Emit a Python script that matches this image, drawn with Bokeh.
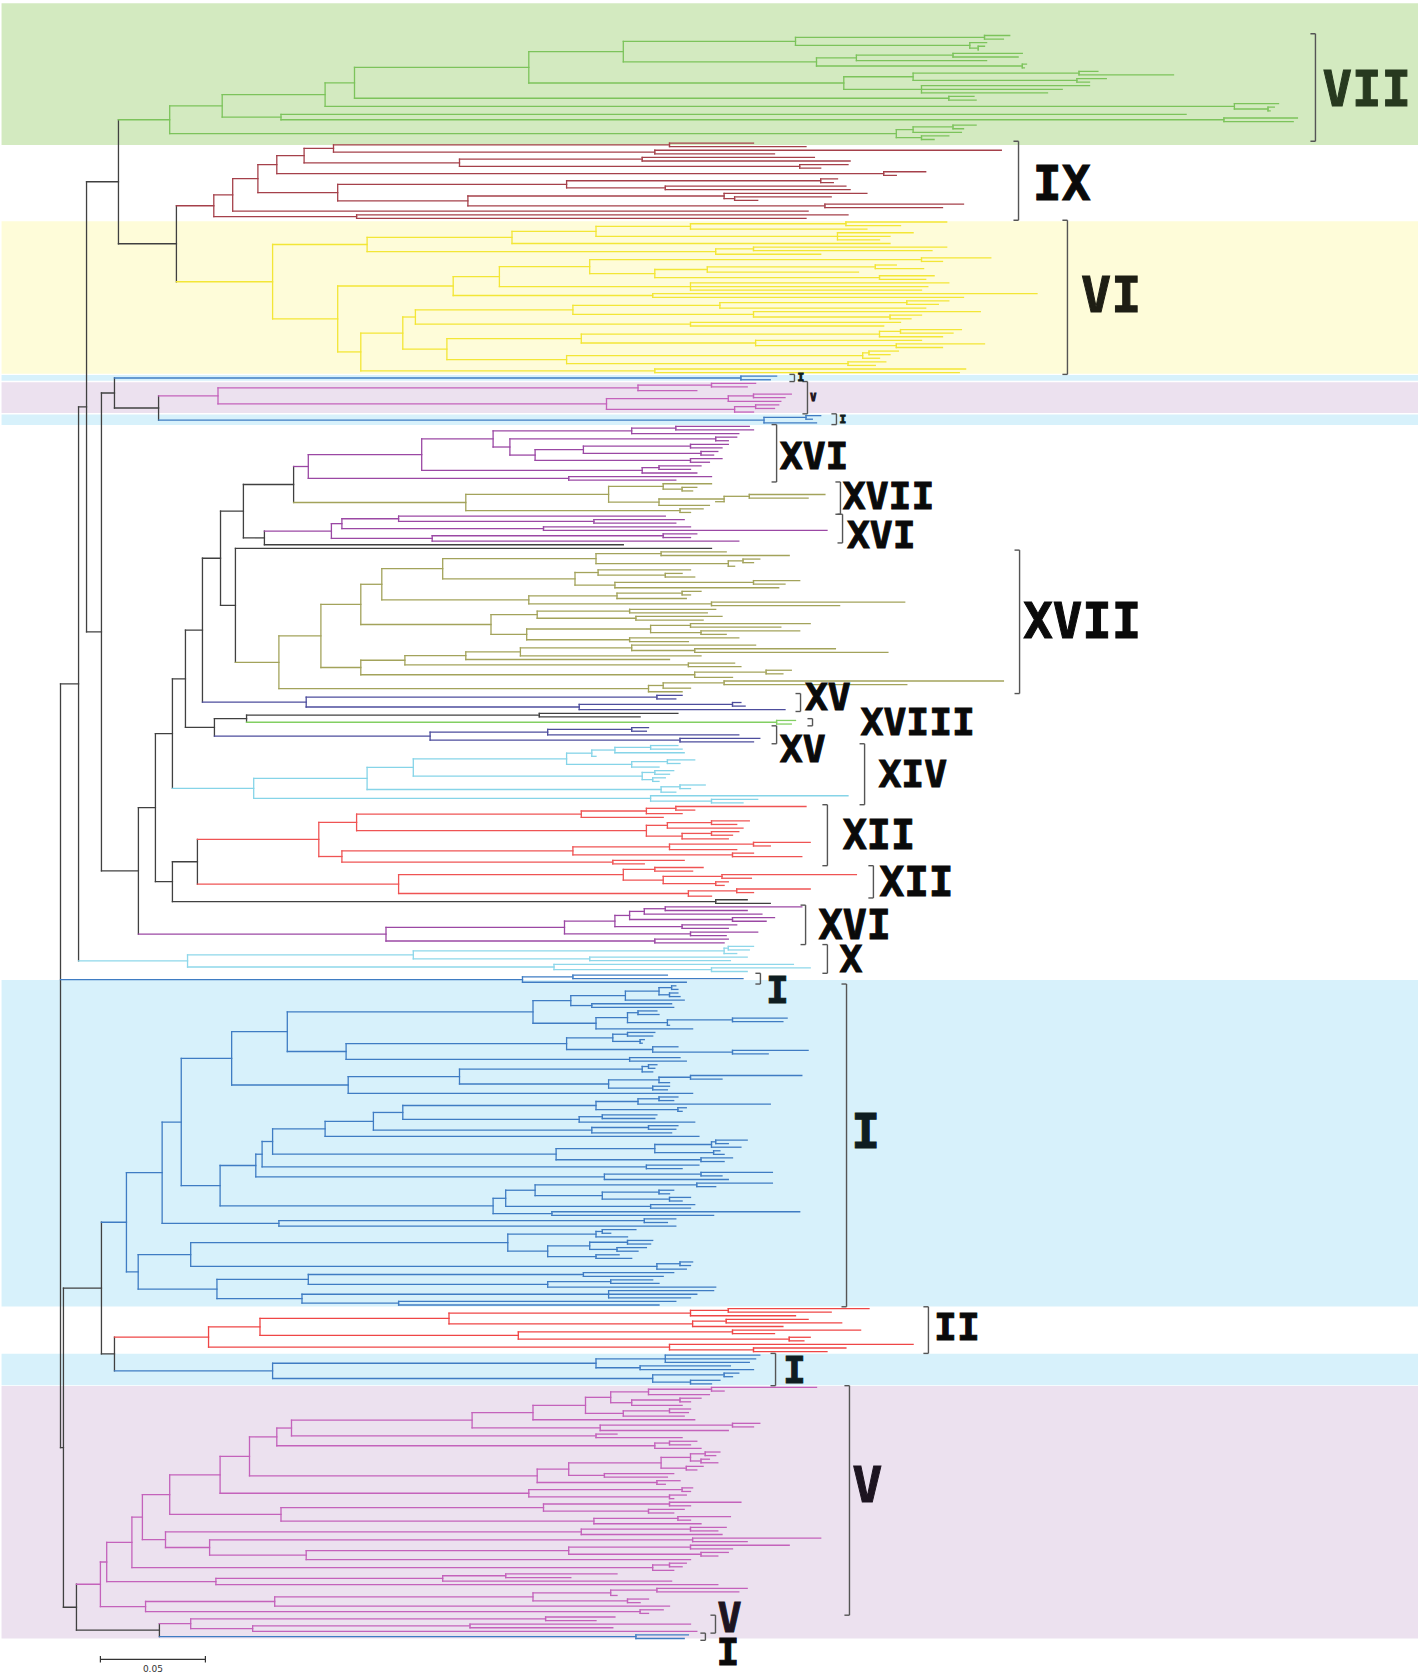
from bokeh.plotting import figure
from bokeh.models import ColumnDataSource, Range1d
from bokeh.embed import file_html
from bokeh.resources import INLINE
from bokeh.core.properties import value, field

# Tree data: a node is (depth, child, child, ...); a bare number is a leaf.
# Depth = distance from the root, in 0.001 substitutions/site (scale bar = 50).

# ---------------- clade VII ----------------
v794 = (350, (440, 452, 449), (433, 441, (437, 440, 437)))
v816 = (360, (379, (425, 458, 456), 441), (458, 460, 459))
v844 = (373, (406, (485, 494, 530), (484, 498, 490)), (410, 490, 477, 470))
VII = (52,
       (77,
        (126,
         (140, (223, (268, v794, v816), v844), (423, 435, 436)),
         (559, 580, (575, 578, 576))),
        (105, 536, (554, 589, 587))),
       (398, (406, (425, 436, 430), 429), (410, 423, 416)))

# ---------------- clade IX ----------------
ix724 = (130, (290, 330, 355), (283, 448, 340))
ix999 = (190, (277, 359, 376), (352, 375, 362))
ix602 = (103, (116, ix724, ix999), (392, 412, 398))
ix1236 = (241, (362, 370, 368), (288, 374, 376))
ix1021 = (194, (316, 384, (321, 367, 332)), (364, 430, 420))
IX = (73, (82, (94, ix602, (132, ix1236, ix1021)), 356), (141, 375, 355))

# ---------------- clade VI ----------------
vi1300 = (255, (300, (374, 422, 400), 384), (370, 406, 395, 390))
vi800 = (146, (215, vi1300, 395), (312, (330, 422, 415), 362))
vi1285 = (252, (410, 443, 420), (283, (308, (388, 398, 411), 380), (390, 416, 412)))
vi985 = (187, (209, vi1285, (300, 423, 413, 410)), (282, 465, 430))
vi1246 = (244, (314, (403, 423, 418), 412), (330, 438, (395, 410, 405)))
vi905 = (169, vi1246, (300, 400, 392))
vi1266 = (248, (390, (400, 429, 425), 420), (331, 410, (398, 440, 420)))
vi975 = (184, vi1266, (241, (382, (385, 399, 395), 390), (375, 393, 388)))
vi784 = (143, (163, vi905, vi975), (283, 431, 428))
VI = (101, vi800, (132, vi985, vi784))

# ---------------- small clades near the top ----------------
Ia = (324, 341, 338)
Va = (75, (275, (310, 331, 327), 303),
      (260, (318, (330, 348, 345), 343), (321, (331, 342, 340), 330)))
Ib = (335, (355, 362, 358), 360)

x1075 = (206, (272, (293, 328, 330), 323),
         (214, (312, 322, 318), (226, (249, (300, 318, 315), (305, 313, 311)), (300, 315, 309))))
XVIa = (118, (172, x1075, (277, (285, 305, 300), 303)), (242, 310, 293))
XVIIa = (193, (261, (287, 310, (296, 303, 301)), (285, (316, (328, 364, 356), 312), 309)),
         (295, 306, 300))
XVIb = (129, (134, (161, 288, (254, 297, 293)), (230, 300, 365)), (177, (287, 303, 300), 323))

# ---------------- clade XVII (large) ----------------
s1296 = (255, (286, 317, 347), (318, (325, 333, 330), 321))
s1251 = (245, (256, 300, (288, 296, 302)), (264, (330, 352, 345), 342))
s1151 = (223, (265, (296, 305, 300), 298), (310, 402, 371))
s832 = (153, (182, s1296, s1251), s1151)
s1172 = (227, (271, 312, 308), (274, 315, 306))
s1149 = (222, (281, (300, 357, 343), (305, 352, 317)), (271, 323, 299))
s788 = (143, s832, (205, s1172, s1149))
s1133 = (219, (272, 331, (302, 369, 394)), 305)
s784 = (143, (164, (193, s1133, 290), (299, 321, 324)), (302, (336, 348, 344), 320))
XVIIb = (104, (124, s788, s784), (280, (287, (316, 449, 403), 300), 296))

XVa = (117, (284, 296, 293), (247, (320, 324, 326), 345))
XVIII = (341, 350, 348)
XVb = (176, (232, (272, 280, 279), 323), (295, 333, 330))

k1233 = (241, (253, (264, (281, 294, 296), 297), 255), (272, (289, 302, 295), 285))
XIV = (92, (146, (168, k1233, (277, (283, 292, 290), (282, 288, 285))), (286, (295, 307, 300), 293)),
       (281, 375, (310, 332, 325)))

r1268 = (248, (279, (293, 355, 302), 296), 287)
r1410 = (279, (289, (310, 328, 322), 325), (296, (310, 323, 320), 318))
r1250 = (244, (290, (330, 357, 338), 322), (320, 330, 353))
XIIa = (123, (141, r1268, r1410), (134, r1250, (263, 297, 278)))
XIIb = (161, (268, (283, 306, 301), (287, (315, 379, 329), (312, 318, 316))),
        (299, (322, 357, 330), 310))

c1403 = (278, (288, 353, 327), 334)
XVIc = (155, (240, (264, (271, c1403, (320, 340, 336)), (296, 322, 318)), (300, 332, 317)),
        (283, 318, 316))
X = (60.5, (168, (316, (318, 330, 328), 322), (252, 327, 319)), (235, 349, (310, 357, 327)))
Ic = (220, (244, 289, 325), 298)

# ---------------- clade I (large) ----------------
b1243 = (243, (269, (285, (291, 293, 294), (290, 294, 295)), 297), (253, 291, 292))
b1299 = (255, (270, (275, 284, 285), (289, (320, 346, 344), 290)), 301)
b1235 = (241, (263, (270, 283, 282), (276, 278, 277)), (282, 294, (320, 356, 337)))
b624 = (108, (225, b1243, b1299), (136, b1235, (271, 295, 298)))
b1000 = (190, (277, (280, 284, 283), 282), (261, (285, (300, 353, 315), 290), (282, 290, 289)))
b504 = (81.5, b624, (137, b1000, 301))
b1297 = (255, (275, (285, 294, 292), 338), (294, 298, 296))
b877 = (163, b1297, (247, (258, 284, 283), 302))
b709 = (126, (149, b877, (253, (280, 294, 293), 291)), 304)
b595 = (101, b709, (236, (283, (310, (312, 327, 318), 324), (311, 314, 316)), (305, 320, 316)))
b555 = (93, (96, b595, (279, 304, 296)), (259, (305, 339, 315), 318))
b1165 = (226, (303, 339, 312), (258, (285, 292, 290), (290, 300, 296)))
b1075 = (206, (212, b1165, (281, 302, 300)), (234, 352, 311))
b354 = (48.4, (57.5, b504, (76, b555, b1075)), (104, (278, 293, 289), 293))
b1195 = (232, (252, (270, 282, 281), (265, 279, 275)), (255, 266, 272))
b416 = (62, (213, (255, (258, 274, 262), 270), b1195), (284, (295, 301, 300), 298))
b472 = (74.5, (118, (249, 292, 287), (232, (262, 282, 285), 312)),
        (115, (261, 311, 303, 300), (161, 293, 285)))
Ibig = (31.4, b354, (37, b416, b472))

II = (70.5, (95, (185, (300, (318, 385, 367), 350), (301, (317, 356, 372), 344)),
             (218, (320, 381, 340), (347, 357, 354))),
      (290, 406, (330, 374, 365)))
Id = (101, (255, (288, 333, 331, 328), (276, 319, 330)), (282, (316, 323, 320), (300, 314, 310)))

# ---------------- clade V (large) ----------------
vA = (225, (250, (262, (280, (310, 360, 316), 309), (272, (295, 305, 300), 296)),
            (268, (290, 300, 299), 297)), 302)
v601 = (103, (110, (196, vA, (257, (320, 333, 330), 318)), (255, 265, 296)),
        (283, (290, 303, 300), 305))
vB = (227, (242, (286, (300, (307, 314, 312), (305, 309, 313)), (298, 306, 303)), (259, 292, 289)),
      (284, 295, 288))
vC = (223, (296, 301, 300), (290, 298, 292))
vD = (105, (230, (290, 324, 300), (280, 297, 292)), (254, (294, 319, 300), 305))
vE = (50, (248, (300, 317, 313), 315),
      (71, (301, 362, 327), (117, (242, (300, 347, 320), (305, 318, 313)), 300)))
vF = (282, (290, 298, 296), 292)
vG = (74, (182, (212, 265, 243), 291), 313)
vH = (40.5, (102, (225, (262, (284, 327, 323), 265), (270, 280, 276)), 290), (276, 287, 280))
Vbig = (19, (22, (34, (39, (52, (76, (90, v601, vB), vC), vD), vE), vF), vG), vH)
Vsmall = (62, (231, 264, 255), (91.5, (195, 300, 263), 303))
Ie = (274, 299, 297)

# ---------------- backbone (named clades plugged in) ----------------
BACKBONE = (0,
            (8.6,
             (12.4,
              (27.6, "VII", (55.2, "IX", "VI")),
              (19.5,
               (25.7, "Ia", (46.7, "Va", "Ib")),
               (37.1,
                (45.2,
                 (53.3,
                  (59.5,
                   (67.6,
                    (76.2,
                     (87.1, (111, "XVIa", "XVIIa"), (97.1, "XVIb", 268)),
                     (83.3, 310, "XVIIb")),
                    "XVa"),
                   (73.3, (88.6, (228, 294, 276), "XVIII"), "XVb")),
                  "XIV"),
                 (53.3, (65.2, "XIIa", "XIIb"), (312, 327, 338))),
                "XVIc"))),
             "X"),
            "Ic",
            (1.4,
             (19.5, "Ibig", (25.7, "II", "Id")),
             (7.6, "Vbig", (47.1, "Vsmall", "Ie"))))

CLADES = {"VII": VII, "IX": IX, "VI": VI, "Ia": Ia, "Va": Va, "Ib": Ib, "XVIa": XVIa,
          "XVIIa": XVIIa, "XVIb": XVIb, "XVIIb": XVIIb, "XVa": XVa, "XVIII": XVIII,
          "XVb": XVb, "XIV": XIV, "XIIa": XIIa, "XIIb": XIIb, "XVIc": XVIc, "X": X,
          "Ic": Ic, "Ibig": Ibig, "II": II, "Id": Id, "Vbig": Vbig, "Vsmall": Vsmall, "Ie": Ie}
GROUP = {"VII": "VII", "IX": "IX", "VI": "VI", "Ia": "I", "Va": "V", "Ib": "I", "XVIa": "XVI",
         "XVIIa": "XVII", "XVIb": "XVI", "XVIIb": "XVII", "XVa": "XV", "XVIII": "XVIII",
         "XVb": "XV", "XIV": "XIV", "XIIa": "XII", "XIIb": "XII", "XVIc": "XVI", "X": "X",
         "Ic": "I", "Ibig": "I", "II": "II", "Id": "I", "Vbig": "V", "Vsmall": "V", "Ie": "I"}
LINE_COLORS = {"bb": "#404040", "VII": "#7cc35b", "IX": "#a5404a", "VI": "#f3e636",
               "I": "#3f7cc3", "V": "#c462bb", "XVI": "#9b48a4", "XVII": "#a3a35b",
               "XV": "#4d4d9d", "XVIII": "#82cf62", "XIV": "#86d4e8", "XII": "#ef5454",
               "X": "#8ed7ea", "II": "#ef4646"}

# ---------------- layout settings ----------------
W, H = 1418, 1673
PX_PER_UNIT = 2.1
ROOT_PX, FIRST_LEAF_PX, LAST_LEAF_PX = 60, 35, 1638


def build(spec, group, clade=None):
    if isinstance(spec, str):
        return build(CLADES[spec], GROUP[spec], spec)
    if isinstance(spec, (int, float)):
        return {"d": float(spec), "kids": [], "g": group, "clade": clade}
    d, *kids = spec
    return {"d": float(d), "kids": [build(k, group, clade) for k in kids], "g": group, "clade": clade}


root = build(BACKBONE, "bb")
counter = [0]
ranges = {}


def layout(n):
    if not n["kids"]:
        n["y"] = counter[0]
        counter[0] += 1
    else:
        for k in n["kids"]:
            layout(k)
        n["y"] = (n["kids"][0]["y"] + n["kids"][-1]["y"]) / 2.0
    if n["clade"] is not None and not n["kids"]:
        lo, hi = ranges.get(n["clade"], (n["y"], n["y"]))
        ranges[n["clade"]] = (min(lo, n["y"]), max(hi, n["y"]))


layout(root)
N = counter[0]

seg = {"x0": [], "y0": [], "x1": [], "y1": [], "c": []}


def add(x0, y0, x1, y1, c):
    seg["x0"].append(x0); seg["y0"].append(y0); seg["x1"].append(x1); seg["y1"].append(y1); seg["c"].append(c)


def collect(n, pd):
    col = LINE_COLORS[n["g"]]
    if pd is not None:
        add(pd, n["y"], n["d"], n["y"], col)
    if n["kids"]:
        add(n["d"], n["kids"][0]["y"], n["d"], n["kids"][-1]["y"], col)
        for k in n["kids"]:
            collect(k, n["d"])


collect(root, None)

s = (LAST_LEAF_PX - FIRST_LEAF_PX) / (N - 1)
x_start = -ROOT_PX / PX_PER_UNIT
x_end = x_start + W / PX_PER_UNIT
y_top = -FIRST_LEAF_PX / s
y_bot = y_top + H / s

p = figure(width=W, height=H, output_backend="svg", toolbar_location=None,
           x_range=Range1d(x_start, x_end), y_range=Range1d(y_bot, y_top),
           x_axis_location=None, y_axis_location=None, min_border=0)
p.grid.visible = False
p.outline_line_color = None
p.background_fill_color = "white"
p.border_fill_color = "white"

# background bands: (first clade, last clade, pad above, pad below, colour)
BANDS = [("VII", "VII", 9.0, 1.5, "#d3eac0"), ("VI", "VI", 0.2, 0.3, "#fefcd9"),
         ("Ia", "Ia", 0.3, 0.3, "#d7f1fb"), ("Va", "Va", 0.3, 0.3, "#ece1ef"),
         ("Ib", "Ib", 0.3, 0.6, "#d7f1fb"), ("Ibig", "Ibig", 1.6, 0.4, "#d7f1fb"),
         ("Id", "Id", 0.4, 0.4, "#d7f1fb"), ("Vbig", "Ie", 0.4, 0.0, "#ece1ef")]
bq = {"t": [], "b": [], "c": []}
for a, b, pt, pb, c in BANDS:
    bq["t"].append(ranges[a][0] - pt)
    bq["b"].append(ranges[b][1] + pb)
    bq["c"].append(c)
p.quad(left=x_start + 0.5, right=x_end, top="t", bottom="b", fill_color="c", line_color=None,
       source=ColumnDataSource(bq))

p.segment(x0="x0", y0="y0", x1="x1", y1="y1", line_color="c", line_width=1.3,
          line_cap="square", source=ColumnDataSource(seg))

# annotations: (text, clade, bracket x, label x, label dy, font px, colour)
ANNOT = [("VII", "VII", 597.6, 601.0, 0.5, 49, "#27391f"),
         ("IX", "IX", 456.2, 463.0, 0.5, 48, "#0a0a0a"),
         ("VI", "VI", 479.5, 486.0, -0.5, 50, "#1e1e14"),
         ("I", "Ia", 349.5, 351.0, 0.0, 11, "#0e1d21"),
         ("V", "Va", 355.7, 357.0, 0.0, 10, "#1d1420"),
         ("I", "Ib", 369.5, 371.0, 0.0, 11, "#0e1d21"),
         ("XVI", "XVIa", 341.0, 342.5, 0.8, 38, "#0a0a0a"),
         ("XVII", "XVIIa", 371.4, 372.5, -0.5, 38, "#0a0a0a"),
         ("XVI", "XVIb", 372.4, 374.5, 1.7, 38, "#0a0a0a"),
         ("XVII", "XVIIb", 456.7, 458.5, 0.0, 49, "#0a0a0a"),
         ("XV", "XVa", 352.4, 354.5, -1.4, 38, "#0a0a0a"),
         ("XVIII", "XVIII", 358.1, 381.0, 0.0, 38, "#0a0a0a"),
         ("XV", "XVb", 341.0, 342.5, 3.9, 38, "#0a0a0a"),
         ("XIV", "XIV", 382.9, 389.5, 0.0, 38, "#0a0a0a"),
         ("XII", "XIIa", 365.2, 372.5, 0.0, 40, "#0a0a0a"),
         ("XII", "XIIb", 387.1, 390.0, 0.0, 41, "#0a0a0a"),
         ("XVI", "XVIc", 354.8, 361.0, 0.0, 40, "#0a0a0a"),
         ("X", "X", 365.2, 371.0, 0.0, 38, "#0a0a0a"),
         ("I", "Ic", 333.3, 336.0, 3.3, 38, "#0e1d21"),
         ("I", "Ibig", 374.3, 376.5, -3.9, 48, "#0e1d21"),
         ("II", "II", 413.3, 416.0, -0.8, 38, "#0a0a0a"),
         ("I", "Id", 340.5, 344.0, 0.0, 38, "#0e1d21"),
         ("V", "Vbig", 375.7, 377.0, -4.2, 50, "#1d1420"),
         ("V", "Vsmall", 311.9, 312.9, -1.7, 40, "#1d1420"),
         ("I", "Ie", 307.1, 312.4, 4.4, 38, "#0a0a0a")]
TICK = 2.4
br = {"x0": [], "y0": [], "x1": [], "y1": []}
lab = {"x": [], "y": [], "t": [], "fs": [], "tc": []}
for t, cl, bx, lx, dy, fs, tc in ANNOT:
    ya, yb = ranges[cl][0] - 0.5, ranges[cl][1] + 0.5
    for a in ((bx, ya, bx, yb), (bx - TICK, ya, bx, ya), (bx - TICK, yb, bx, yb)):
        br["x0"].append(a[0]); br["y0"].append(a[1]); br["x1"].append(a[2]); br["y1"].append(a[3])
    lab["x"].append(lx); lab["y"].append((ya + yb) / 2 + dy); lab["t"].append(t)
    lab["fs"].append(f"{fs}px"); lab["tc"].append(tc)
p.segment(x0="x0", y0="y0", x1="x1", y1="y1", line_color="#555555", line_width=1.4,
          source=ColumnDataSource(br))
p.text(x="x", y="y", text="t", text_font=value("DejaVu Sans Mono"), text_font_style="bold",
       text_font_size=field("fs"), text_color=field("tc"), text_outline_color=field("tc"),
       text_baseline="middle", text_align="left", source=ColumnDataSource(lab))

# scale bar: 0.05 substitutions/site
SCALE_LEN = 50
sb_x, sb_y = 19, N - 1 + 5.8
p.segment(x0=[sb_x, sb_x, sb_x + SCALE_LEN], y0=[sb_y, sb_y - 0.9, sb_y - 0.9],
          x1=[sb_x + SCALE_LEN, sb_x, sb_x + SCALE_LEN], y1=[sb_y, sb_y + 0.9, sb_y + 0.9],
          line_color="#333333", line_width=1.2)
p.text(x=[sb_x + SCALE_LEN / 2], y=[sb_y + 2.5], text=["0.05"], text_font=value("DejaVu Sans"),
       text_font_size="9px", text_color="#333333", text_align="center", text_baseline="middle")

open("out.html", "w").write(file_html(p, INLINE))
